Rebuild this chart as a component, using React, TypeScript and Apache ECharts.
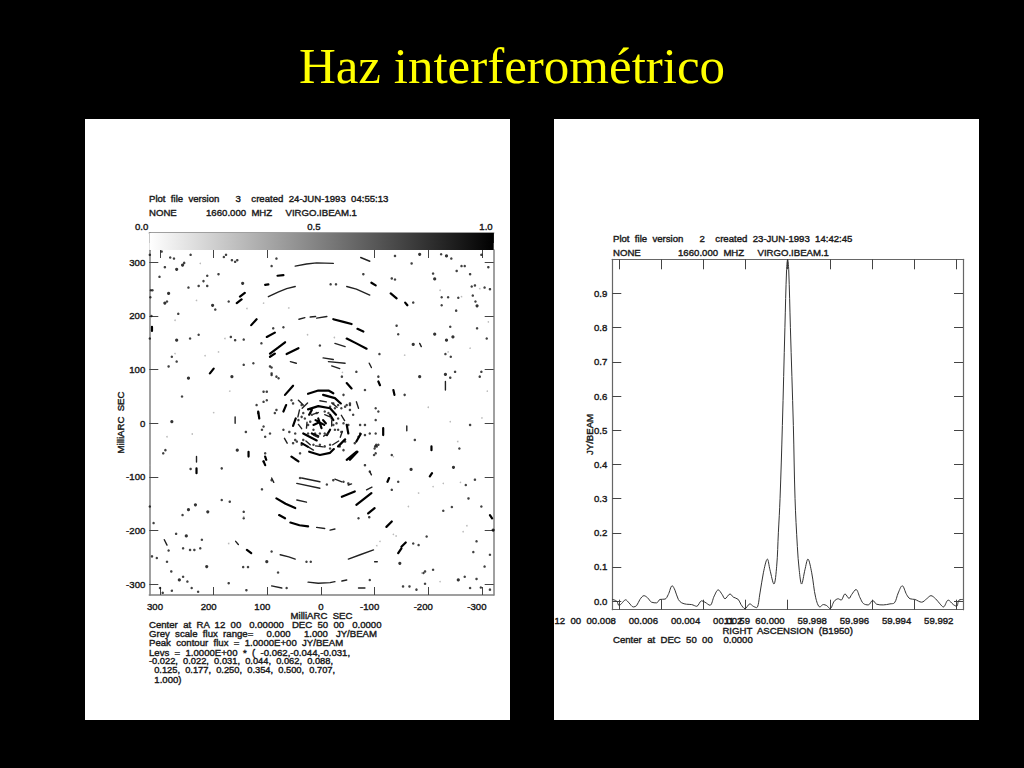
import React, { useEffect, useRef } from "react";
import * as echarts from "echarts";

const titleText = "Haz interferométrico";
const sansFont = "'Liberation Sans', Arial, sans-serif";

const leftHeader = ["Plot  file  version      3    created  24-JUN-1993  04:55:13", "NONE           1660.000  MHZ     VIRGO.IBEAM.1"];
const leftFooter = [
  "Center  at  RA  12  00   0.00000   DEC  50  00   0.0000",
  "Grey  scale  flux  range=     0.000     1.000   JY/BEAM",
  "Peak  contour  flux  =  1.0000E+00  JY/BEAM",
  "Levs  =  1.0000E+00  *  (  -0.062,-0.044,-0.031,",
  "-0.022,  0.022,  0.031,  0.044,  0.062,  0.088,",
  "  0.125,  0.177,  0.250,  0.354,  0.500,  0.707,",
  "  1.000)",
];
const leftFooterSizes = [9.6, 9.6, 9.6, 9.6, 9.3, 9.3, 9.6];
const rightHeader = ["Plot  file  version      2    created  23-JUN-1993  14:42:45", "NONE              1660.000  MHZ     VIRGO.IBEAM.1"];
const rightFooter = "Center  at  DEC  50  00    0.0000";

const wedgeTicks = [0, 0.5, 1];
const mapTicks = [300, 200, 100, 0, -100, -200, -300];
const profileYTicks = [0, 0.1, 0.2, 0.3, 0.4, 0.5, 0.6, 0.7, 0.8, 0.9];
const profileXTicks = [8, 6, 4, 2, 0, -2, -4, -6, -8];
const profileXLabels = ["12  00  00.008", "00.006", "00.004", "00.002", "11  59  60.000", "59.998", "59.996", "59.994", "59.992"];

// beam cut: offset in milliseconds of RA from 60.000, Jy/beam
const profile = [
  [8.31, 0.005], [8.1, 0], [7.99, -0.013], [7.87, -0.007], [7.68, 0.004], [7.52, -0.005], [7.31, -0.017], [7.16, -0.013],
  [7.0, 0.005], [6.81, 0.016], [6.64, 0.01], [6.45, -0.003], [6.21, -0.005], [6.05, 0.005], [5.81, 0.006], [5.66, 0.019],
  [5.47, 0.045], [5.34, 0.032], [5.18, 0.005], [5.02, -0.005], [4.79, -0.009], [4.55, -0.01], [4.31, -0.015], [4.08, 0.001],
  [3.92, -0.003], [3.68, -0.012], [3.48, 0.015], [3.29, 0.033], [3.1, 0.019], [2.97, 0.007], [2.73, 0.021], [2.58, 0.012],
  [2.34, 0.005], [2.21, -0.01], [2.02, -0.022], [1.79, -0.008], [1.63, -0.015], [1.47, -0.019], [1.31, 0.024], [1.15, 0.083],
  [0.96, 0.123], [0.84, 0.092], [0.65, 0.05], [0.52, 0.102], [0.44, 0.2], [0.36, 0.3], [0.25, 0.514], [0.13, 0.8], [0.05, 0.97],
  [0, 1.0], [-0.05, 0.97], [-0.13, 0.8], [-0.27, 0.514], [-0.35, 0.3], [-0.46, 0.16], [-0.55, 0.09], [-0.66, 0.05], [-0.82, 0.092],
  [-0.96, 0.123], [-1.14, 0.083], [-1.33, 0.01], [-1.53, -0.017], [-1.69, -0.01], [-1.85, -0.013], [-2.01, -0.022], [-2.21, 0],
  [-2.4, 0.007], [-2.53, 0.003], [-2.72, 0.021], [-2.91, 0.008], [-3.03, 0.019], [-3.24, 0.034], [-3.43, 0.01], [-3.59, -0.007],
  [-3.82, -0.011], [-4.03, 0.002], [-4.22, -0.009], [-4.53, -0.011], [-4.85, -0.008], [-5.06, -0.005], [-5.24, 0.024], [-5.43, 0.045],
  [-5.64, 0.019], [-5.8, 0.007], [-6.03, 0.005], [-6.35, -0.003], [-6.59, 0.007], [-6.79, 0.016], [-7.01, 0.007], [-7.22, -0.008],
  [-7.38, -0.017], [-7.61, 0.003], [-7.85, -0.01], [-8.01, -0.015], [-8.12, 0.003], [-8.31, 0.005],
];

// beam map, milliarcsec: heavy contour pieces
const heavyStrokes = [
  [[-48, 158], [-66, 149], [-85, 139]], [[95, 130], [80, 141], [67, 151]], [[101, 161], [86, 169]], [[130, 183], [120, 194]],
  [[157, 224], [148, 231]], [[151, 236], [142, 243]], [[64, 129], [42, 140]], [[95, 124], [86, 130]], [[-23, 194], [-42, 189], [-57, 185]],
  [[-68, 176], [-79, 171]], [[104, 258], [98, 259]], [[81, 275], [70, 276]], [[207, 93], [200, 102]], [[-130, 242], [-141, 233]],
  [[-157, 225], [-161, 220]], [[-94, 262], [-102, 257]], [[315, 180], [315, 172]], [[135, -53], [135, -62]], [[232, -84], [232, -93]],
  [[138, -236], [130, -242]], [[-144, -242], [-150, -233]], [[-150, -230], [-158, -222]], [[-122, -193], [-132, -183]],
  [[-315, -171], [-319, -177]], [[-203, -99], [-207, -93]], [[-206, -43], [-206, -50]], [[-116, -9], [-116, -22]],
  [[-124, -109], [-127, -102]], [[-66, -152], [-94, -130]], [[-88, -168], [-100, -158]], [[-39, -137], [-63, -127]],
  [[83, -140], [66, -150], [48, -158]], [[78, -171], [67, -177]], [[57, -185], [40, -190], [24, -192]], [[107, -71], [104, -78]],
  [[104, -62], [102, -68]], [[48, -67], [42, -71]], [[-48, -68], [-66, -53]], [[-135, 62], [-137, 53]], [[-107, 78], [-110, 71]],
  [[24, 55], [5, 61], [-14, 61], [-23, 56]], [[-4, 53], [-26, 47], [-37, 37]], [[67, 53], [52, 70]], [[-48, 75], [-57, 65]],
  [[70, 22], [65, 34]], [[52, -5], [47, 9]], [[24, 26], [5, 32], [-17, 28], [-28, 16]], [[33, -19], [8, -32]], [[36, -37], [24, -44]],
  [[22, -53], [2, -59], [-17, -55], [-24, -48]], [[55, -62], [42, -71]], [[-54, -68], [-68, -53]], [[-32, -43], [-45, -30]],
  [[-66, -34], [-74, -20]], [[-48, -3], [-51, -19]], [[117, 22], [115, 9]], [[10, 6], [-6, -3]], [[5, 9], [-1, -9]], [[14, -3], [5, 1]],
  [[-4, 6], [-9, 0]], [[22, 16], [17, 25]], [[-17, 16], [-23, 6]], [[-17, -12], [-11, -22]], [[17, -19], [5, -24]],
];

// lighter contour pieces
const lightStrokes = [
  [[48, 293], [27, 297], [8, 299], [-23, 298]], [[98, 236], [79, 245], [64, 251], [48, 255]], [[41, 194], [30, 197]], [[20, 198], [10, 199]],
  [[8, 196], [-11, 199]], [[-26, 149], [-45, 143]], [[-4, 122], [-23, 119]], [[-14, 115], [-45, 112]], [[-20, 107], [-35, 102]],
  [[57, 115], [46, 112]], [[-90, 112], [-94, 104]], [[-184, 149], [-187, 143]], [[160, 12], [160, 0]], [[292, -217], [287, -227]],
  [[24, -296], [5, -298], [-17, -297], [-26, -295]], [[-39, -294], [-48, -292]], [[-70, -307], [-82, -307]], [[-51, -253], [-73, -245], [-98, -236]],
  [[-100, -258], [-105, -258]], [[-160, -5], [-160, -14]], [[-85, -124], [-95, -119]], [[-51, -115], [-57, -113]], [[-26, -104], [-39, -109]],
  [[36, -102], [2, -109]], [[45, -112], [2, -121]], [[45, -143], [27, -147]], [[92, -102], [88, -110]], [[8, -194], [-7, -196]], [[-17, -199], [-26, -197]],
  [[-232, 78], [-232, 62]], [[42, 43], [33, 34]], [[-66, 40], [-70, 28]], [[68, -28], [63, -37]], [[-91, -90], [-94, -96]], [[159, -220], [154, -226]],
  [[76, -245], [60, -249], [48, -253]], [[92, -303], [73, -307]], [[-74, 309], [-91, 302]], [[-48, 255], [-66, 250], [-91, 239]], [[232, -62], [232, -72]],
  [[14, 17], [5, 20]], [[-7, 16], [-17, 12]], [[-20, 5], [-20, -5]], [[-14, -19], [-5, -24]], [[5, -26], [14, -22]], [[27, -9], [26, 2]],
  [[43, 12], [40, 25]], [[36, -10], [42, -2]], [[-38, 15], [-44, 5]], [[-40, -15], [-36, -26]], [[10, -42], [-4, -44]], [[-10, 40], [2, 42]],
  [[-20, 38], [-30, 30]], [[25, 38], [35, 28]], [[-33, -33], [-22, -40]], [[28, -33], [20, -40]], [[24, -44], [14, -50]],
];

// isolated spots
const darkSpots = [
  [319, 314], [297, 320], [281, 309], [274, 307], [291, 291], [255, 299], [243, 314], [212, 275], [219, 265], [191, 278],
  [181, 310], [177, 314], [166, 304], [156, 304], [160, 301], [92, 293], [83, 307], [-138, 312], [-169, 298], [-224, 315],
  [-243, 307], [-262, 293], [-253, 284], [-268, 293], [-278, 278], [-299, 314], [-312, 291], [-305, 253], [-315, 250], [-281, 255], [-287, 257],
  [-209, 279], [-138, 268], [-132, 270], [-79, 278], [-18, 259], [-28, 259], [247, 253], [228, 256], [212, 256], [301, 273],
  [287, 227], [317, 248], [314, 248], [318, 235], [197, 212], [172, 227], [266, 204], [316, 200], [-225, 235],
  [-225, 220], [-237, 235], [-256, 234], [-283, 238], [-288, 227], [-252, 210], [-172, 225],
  [-241, 180], [-291, 177], [-141, 182], [-144, 166], [-109, 129], [-232, 129], [-242, 124], [-241, 85], [-250, 96],
  [-296, 87], [-299, 96], [-309, 158], [244, 158], [228, 165], [319, 158], [278, 124], [269, 115], [284, 106], [168, 161], [160, 155],
  [144, 156], [111, 149], [89, 177], [70, 179], [144, 109], [126, 112], [92, 104], [92, 90], [83, 87], [-66, 96], [-39, 87], [2, 145], [-107, 87],
  [259, 50], [140, -16], [290, -50], [294, -56], [243, -85], [185, -84], [185, -143], [170, -146], [258, -171],
  [144, -165], [144, -177], [319, -155], [312, -186], [270, -206], [284, -237], [222, -217], [225, -233], [257, -233], [244, -236],
  [236, -236], [315, -248], [306, -251], [287, -258], [279, -276], [257, -286], [249, -295], [241, -307], [229, -314], [300, -307],
  [278, -312], [295, -316], [172, -298], [139, -311], [92, -239], [80, -278], [145, -268], [136, -268], [27, -258], [19, -258], [64, -307], [-91, -292],
  [-172, -224], [-182, -227], [-197, -211], [-209, -273], [-194, -276], [-191, -279], [-178, -310], [-194, -299], [-153, -304], [-165, -304],
  [-268, -286], [-290, -290], [-278, -307], [-298, -306], [-315, -310], [-305, -267], [-284, -240], [-290, -220], [-315, -245],
  [-299, -155], [-228, -163], [-244, -156], [-275, -140], [-287, -105], [-270, -115], [-258, -47], [-278, -3], [-175, -31],
  [-103, -40], [-100, -47], [-102, -56], [-132, -59], [-132, -124], [-144, -109], [-70, -177], [-90, -175], [-11, -114], [110, -123], [-156, 53],
  [36, 12], [33, 19], [42, 6], [48, -19], [59, -16], [70, -12], [83, 25], [86, 19], [101, 59], [107, 40], [101, 43], [117, 19], [104, -25], [107, -6],
  [-48, 34], [-38, 28], [-42, 53], [-54, 34], [-60, 16], [-32, 9], [-32, -12], [-38, -16], [-42, 0], [-73, -3], [-82, -3], [-102, 28], [-102, 6], [-82, 62],
  [-101, -43], [-99, -59], [-107, -40], [39, -56], [45, -34], [-7, -43], [-17, -40], [2, -40], [14, -40], [-23, -3], [-26, -12], [30, 9], [24, -3], [20, 3],
  [-20, 9], [-14, 19], [-7, 22], [8, 19], [17, 16], [2, -19], [-7, -19], [14, -12], [95, 106], [92, 93], [79, 84], [120, 34], [107, 59],
  [55, 43], [52, 37], [36, 34], [52, -37], [48, -31], [36, -40], [33, -31], [-23, 37], [-32, 34], [-45, 31], [-54, 37], [-54, 25], [-51, -3], [-70, -25],
  [-73, -19], [-63, -37], [-45, -34], [-35, -43], [-42, -50], [-17, -47], [11, -19], [24, -19], [-29, 0], [-17, 31], [-26, 28], [-82, -22], [-91, -19],
  [-104, -43], [-102, -19], [-107, 22], [95, -19], [110, -12], [104, -56], [107, -71], [92, -106], [39, -102], [-23, -106], [-42, -109], [-51, -112],
  [-91, -90], [-82, -78],
];

// spots big enough to read as blobs
const blobSpots = [
  [258, 295], [269, 287], [291, 224], [284, 242], [202, 220], [146, 261], [-234, 312], [-184, 315], [-212, 269], [-291, 219], [-212, 166], [-246, 161],
  [-234, 155], [-172, 147], [-184, 87], [-232, 91], [269, 155], [247, 84], [166, 87], [278, 3], [156, -50], [234, -152], [247, -161], [211, -165],
  [251, -210], [213, -267], [264, -292], [101, -258], [-147, -261], [-256, -292], [-321, -199], [-247, -82], [-168, -86],
];

// pale specks
const faintSpots = [
  [232, 229], [138, 214], [107, 224], [225, 298], [272, 192], [272, 130], [216, 126], [191, 133], [179, 158], [-156, 127], [-222, 248], [-262, 236], [-296, 251],
  [-278, 140], [-312, 189], [-237, 133], [287, -25], [319, -78], [-241, 3], [-255, -34], [-135, -62], [-209, -118], [-228, -112], [-182, -130], [-163, -155],
  [-272, -191], [-265, -202], [-188, -279], [-222, -295], [144, -174], [172, -224], [-110, -220], [-104, -228], [-140, -210], [-135, -207], [-300, 10], [-310, 60],
  [240, -20], [200, 20], [170, 60], [-40, 95], [-25, 160], [25, 165], [60, 215], [-200, 30], [-260, -110],
];

const textColor = "#1a1a1a";
const fontSize = 9.6;
const sans = { fontFamily: sansFont, fontSize, color: textColor, textBorderColor: textColor, textBorderWidth: 0.4 };

const strokesToLine = (strokes: number[][][]) => {
  const out: number[][] = [];
  strokes.forEach((s) => {
    s.forEach((p) => out.push(p));
    out.push([NaN, NaN]);
  });
  return out;
};

const frame = { show: true, onZero: false, lineStyle: { color: "#808080", width: 1.5 } };
const noFrame = { show: false, onZero: false };
const plotFrame = { show: true, onZero: false, lineStyle: { color: "#666", width: 1.2 } };
const ticksIn = (values: number[], length: number) => ({ show: true, inside: true, length, customValues: values, lineStyle: { color: "#444", width: 1 } });

const labelLines = (lines: string[], x: number, ys: number[], sizes?: number[]) =>
  lines.map((t, i) => ({
    type: "text",
    z: 20,
    x,
    y: ys[i],
    style: { text: t, fill: textColor, stroke: textColor, lineWidth: 0.4, font: `${sizes ? sizes[i] : fontSize}px ${sansFont}`, textVerticalAlign: "middle", textBaseline: "middle" },
  }));

export default function App() {
  const ref = useRef<HTMLDivElement>(null);
  useEffect(() => {
    document.body.style.margin = "0";
    document.body.style.background = "#000";
    const chart = echarts.init(ref.current!, null, { renderer: "svg" });
    chart.setOption({
      animation: false,
      backgroundColor: "#000",
      graphic: [
        { type: "rect", z: -10, shape: { x: 85, y: 119, width: 425, height: 601 }, style: { fill: "#fff" } },
        { type: "rect", z: -10, shape: { x: 554, y: 119, width: 425, height: 601 }, style: { fill: "#fff" } },
        {
          type: "text",
          z: 20,
          x: 512,
          y: 66,
          style: { text: titleText, fill: "#ffff00", font: "51px 'Liberation Serif', serif", textAlign: "center", textVerticalAlign: "middle", textBaseline: "middle" },
        },
        ...labelLines(leftHeader, 149, [198, 212]),
        ...labelLines(leftFooter, 149, [624.6, 633.6, 642.9, 652, 661, 670.3, 679.7], leftFooterSizes),
        ...labelLines(rightHeader, 613, [238, 252]),
        ...labelLines([rightFooter], 613, [639.5]),
      ],
      grid: [
        { left: 149.3, right: 1024 - 493.7, top: 233, bottom: 768 - 250 },
        { left: 149.3, right: 1024 - 493.7, top: 250, bottom: 768 - 595 },
        { left: 612.3, right: 1024 - 963, top: 259.3, bottom: 768 - 609.7 },
      ],
      xAxis: [
        {
          gridIndex: 0, type: "value", position: "top", min: 0, max: 1, axisLine: frame, splitLine: { show: false },
          axisTick: ticksIn(wedgeTicks, 10),
          axisLabel: { ...sans, customValues: wedgeTicks, margin: 2, align: "right", padding: [0, 1, 0, 0], formatter: (v: number) => v.toFixed(1) },
        },
        {
          gridIndex: 1, type: "value", position: "bottom", inverse: true, min: -322, max: 320, axisLine: frame, splitLine: { show: false },
          axisTick: ticksIn(mapTicks, 8),
          name: "MilliARC  SEC", nameLocation: "middle", nameGap: 15, nameMoveOverlap: false, nameTextStyle: sans,
          axisLabel: { ...sans, customValues: mapTicks, margin: 6, align: "center", padding: [0, 10, 0, 0], formatter: (v: number) => (v === 0 ? "{z|0}" : String(v)), rich: { z: { ...sans, padding: [0, 0, 0, 10] } } },
        },
        {
          gridIndex: 1, type: "value", position: "top", inverse: true, min: -322, max: 320, axisLine: noFrame, splitLine: { show: false },
          axisTick: ticksIn(mapTicks.filter((v) => v !== 0), 8), axisLabel: { show: false },
        },
        {
          gridIndex: 2, type: "value", position: "bottom", inverse: true, min: -8.31, max: 8.31, axisLine: plotFrame, splitLine: { show: false },
          axisTick: ticksIn(profileXTicks, 10),
          name: "RIGHT  ASCENSION  (B1950)", nameLocation: "middle", nameGap: 15.5, nameMoveOverlap: false, nameTextStyle: sans,
          axisLabel: { ...sans, customValues: profileXTicks, margin: 6, align: "right", padding: [0, 3, 0, 0], formatter: (v: number) => profileXLabels[profileXTicks.indexOf(v)] },
        },
        {
          gridIndex: 2, type: "value", position: "top", inverse: true, min: -8.31, max: 8.31, axisLine: plotFrame, splitLine: { show: false },
          axisTick: ticksIn(profileXTicks, 10), axisLabel: { show: false },
        },
      ],
      yAxis: [
        { gridIndex: 0, type: "category", data: ["wedge"], axisLine: frame, axisTick: { show: false }, axisLabel: { show: false } },
        {
          gridIndex: 1, type: "value", position: "left", min: -320, max: 323, axisLine: frame, splitLine: { show: false },
          axisTick: ticksIn(mapTicks, 9),
          name: "MilliARC  SEC", nameLocation: "middle", nameGap: 24, nameMoveOverlap: false, nameRotate: 90, nameTextStyle: sans,
          axisLabel: { ...sans, customValues: mapTicks, margin: 4 },
        },
        {
          gridIndex: 1, type: "value", position: "right", min: -320, max: 323, axisLine: frame, splitLine: { show: false },
          axisTick: ticksIn(mapTicks, 9), axisLabel: { show: false },
        },
        {
          gridIndex: 2, type: "value", position: "left", min: -0.025, max: 1, axisLine: plotFrame, splitLine: { show: false },
          axisTick: ticksIn(profileYTicks, 9),
          name: "JY/BEAM", nameLocation: "middle", nameGap: 18, nameMoveOverlap: false, nameRotate: 90, nameTextStyle: sans,
          axisLabel: { ...sans, customValues: profileYTicks, margin: 5, formatter: (v: number) => v.toFixed(1) },
        },
        {
          gridIndex: 2, type: "value", position: "right", min: -0.025, max: 1, axisLine: plotFrame, splitLine: { show: false },
          axisTick: ticksIn(profileYTicks, 9), axisLabel: { show: false },
        },
      ],
      series: [
        {
          type: "bar", xAxisIndex: 0, yAxisIndex: 0, data: [1], barWidth: "100%", silent: true,
          itemStyle: { color: new echarts.graphic.LinearGradient(0, 0, 1, 0, [{ offset: 0, color: "#ffffff" }, { offset: 1, color: "#000000" }]) },
        },
        {
          type: "line", xAxisIndex: 1, yAxisIndex: 1, data: strokesToLine(heavyStrokes), showSymbol: false, connectNulls: false, silent: true,
          lineStyle: { color: "#000", width: 2.2, cap: "round", join: "round" },
        },
        {
          type: "line", xAxisIndex: 1, yAxisIndex: 1, data: strokesToLine(lightStrokes), showSymbol: false, connectNulls: false, silent: true,
          lineStyle: { color: "#222", width: 1.4, cap: "round", join: "round" },
        },
        { type: "scatter", xAxisIndex: 1, yAxisIndex: 1, data: darkSpots, symbolSize: 2.5, silent: true, itemStyle: { color: "#111" } },
        { type: "scatter", xAxisIndex: 1, yAxisIndex: 1, data: blobSpots, symbolSize: 3.2, silent: true, itemStyle: { color: "#000" } },
        { type: "scatter", xAxisIndex: 1, yAxisIndex: 1, data: faintSpots, symbolSize: 1.6, silent: true, itemStyle: { color: "#aaa" } },
        {
          type: "line", xAxisIndex: 3, yAxisIndex: 3, data: profile, showSymbol: false, smooth: 0.35, silent: true,
          lineStyle: { color: "#333", width: 1 },
        },
      ],
    });
    return () => chart.dispose();
  }, []);
  return <div ref={ref} style={{ position: "absolute", left: 0, top: 0, width: 1024, height: 768 }} />;
}
